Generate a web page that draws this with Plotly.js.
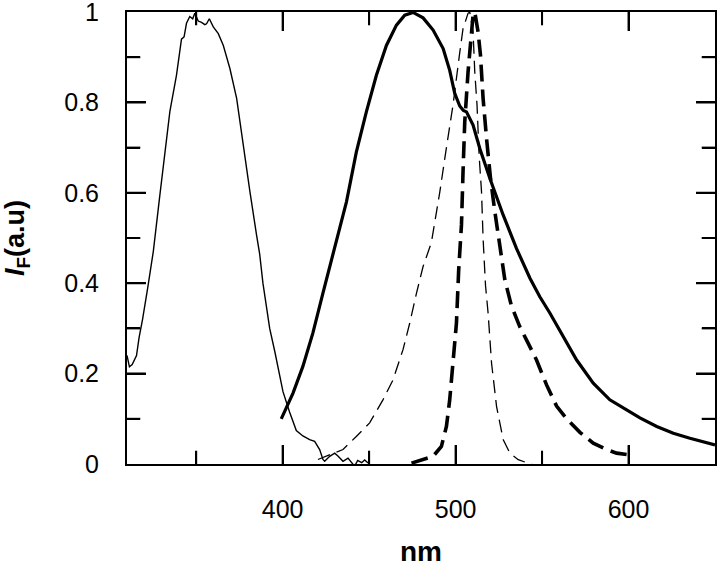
<!DOCTYPE html>
<html>
<head>
<meta charset="utf-8">
<script src="https://cdn.plot.ly/plotly-3.0.1.min.js"></script>
<style>html,body{margin:0;padding:0;background:#fff;}#chart{width:720px;height:567px;}</style>
</head>
<body>
<div id="chart"></div>
<script>
// Thin solid (excitation)
const exNm = [310, 311.4, 313, 315.5, 317, 319, 322, 325.2, 329, 332.9, 334.8, 338.6, 341.5, 343, 344.4, 346.3, 348, 349.2, 350, 351.2, 353.1, 355, 356, 357.6, 359.9, 362.8, 365.7, 369.5, 373.4, 377.2, 381.1, 384.9, 386.7, 388.6, 390.6, 392.5, 395.4, 398, 400.2, 404, 407.9, 411.7, 415.6, 418.5, 420.4, 421.4, 423.3, 424.3, 427.2, 430.1, 431.8, 434.9, 437.8, 440, 441.6, 443.4, 445.7, 447.4, 449.4];
const exVal = [0.24, 0.215, 0.22, 0.24, 0.28, 0.32, 0.39, 0.47, 0.595, 0.72, 0.78, 0.86, 0.94, 0.945, 0.975, 0.99, 0.985, 0.997, 0.99, 0.98, 0.977, 0.972, 0.974, 0.985, 0.967, 0.952, 0.926, 0.875, 0.809, 0.705, 0.602, 0.507, 0.465, 0.40, 0.35, 0.30, 0.25, 0.20, 0.16, 0.115, 0.074, 0.062, 0.054, 0.05, 0.039, 0.032, 0.01, 0.006, 0.017, 0.024, 0.018, 0.006, 0.013, 0.004, -0.005, 0.008, 0.003, 0.009, 0.002];

// Thick solid (emission)
const emNm = [399.2, 406, 411.7, 417.5, 423.3, 428.2, 431, 436.9, 442.6, 448.4, 454.2, 460, 465.8, 470.6, 475.4, 481.2, 487, 492.8, 496.6, 499.5, 502.4, 504.5, 506.3, 510.1, 514, 519.8, 527.5, 535.2, 543, 548.7, 554.5, 562.2, 570, 579.6, 589.2, 598.9, 606.6, 616.3, 625.9, 635.5, 645.2, 650];
const emVal = [0.10, 0.157, 0.216, 0.29, 0.378, 0.451, 0.49, 0.58, 0.69, 0.779, 0.86, 0.926, 0.971, 0.993, 0.999, 0.987, 0.96, 0.919, 0.871, 0.82, 0.792, 0.782, 0.779, 0.75, 0.698, 0.632, 0.551, 0.477, 0.411, 0.37, 0.334, 0.282, 0.23, 0.179, 0.142, 0.12, 0.102, 0.083, 0.068, 0.057, 0.046, 0.042];

// Thin dashed
const d1Nm = [420.4, 425.3, 430, 434.9, 442.6, 450.3, 458, 463.8, 469.6, 473.5, 477.4, 481.2, 486, 490.8, 494.7, 498.5, 502.4, 504.3, 507.2, 508.2, 510.1, 511.1, 512.4, 513.6, 515, 515.9, 517.3, 518.8, 520.8, 523.7, 527.5, 531.4, 536.2, 542, 548, 555, 562, 570, 578, 585, 592, 600];
const d1Val = [0.01, 0.017, 0.024, 0.032, 0.061, 0.091, 0.142, 0.186, 0.253, 0.312, 0.378, 0.437, 0.49, 0.6, 0.70, 0.794, 0.91, 0.963, 0.997, 1.0, 0.956, 0.867, 0.794, 0.683, 0.602, 0.499, 0.395, 0.334, 0.223, 0.127, 0.054, 0.024, 0.0095, 0.002, -0.006, -0.003, -0.008, -0.004, -0.007, -0.003, -0.008, -0.005];

// Thick dashed
const d2Nm = [474.5, 481.2, 487, 491.8, 494.7, 496.6, 498.5, 500.5, 501.8, 503.4, 504.3, 505.3, 507.2, 509.2, 510.1, 511.1, 513, 514.4, 515.9, 517.9, 520.2, 522.7, 525.6, 528.5, 532.3, 537.1, 542, 546.8, 552.6, 558.4, 564.2, 571.9, 579.6, 587.3, 593.1, 598.9];
const d2Val = [0.002, 0.01, 0.017, 0.039, 0.083, 0.142, 0.216, 0.312, 0.43, 0.529, 0.646, 0.757, 0.867, 0.949, 0.993, 1.0, 0.956, 0.904, 0.809, 0.72, 0.632, 0.558, 0.485, 0.407, 0.35, 0.304, 0.267, 0.23, 0.175, 0.128, 0.1, 0.07, 0.046, 0.032, 0.024, 0.021];

// Axes and ticks
const xRange = [310, 650];
const yRange = [0, 1];
const xTickVals = [400, 500, 600];
const xMinorVals = [350, 450, 550];
const yTickVals = [0, 0.2, 0.4, 0.6, 0.8, 1];
const yTickText = ['0', '0.2', '0.4', '0.6', '0.8', '1'];
const yInnerMajor = [0.2, 0.4, 0.6, 0.8];
const yInnerMinor = [0.1, 0.3, 0.5, 0.7, 0.9];

const xTitle = 'nm';
const yTitle = '<i>I</i><sub>F</sub>(a.u)';

const traces = [
  {x: exNm, y: exVal, mode: 'lines', line: {color: '#000', width: 1.4}, hoverinfo: 'skip'},
  {x: emNm, y: emVal, mode: 'lines', line: {color: '#000', width: 3.2}, hoverinfo: 'skip'},
  {x: d1Nm, y: d1Val, mode: 'lines', line: {color: '#000', width: 1.3, dash: '13px,7px'}, hoverinfo: 'skip'},
  {x: d2Nm, y: d2Val, mode: 'lines', line: {color: '#000', width: 3.6, dash: '17px,8px'}, hoverinfo: 'skip'}
];

// Tick marks as clipped line markers sitting on the frame (half inside the plot is visible)
function tickMarks(xs, ys, symbol, size) {
  return {x: xs, y: ys, mode: 'markers', cliponaxis: true, hoverinfo: 'skip',
    marker: {symbol: symbol, size: size, color: '#000', line: {color: '#000', width: 2}}};
}
function xTickTrace(vals, size) {
  const xs = [], ys = [];
  vals.forEach(v => { xs.push(v, v); ys.push(yRange[0], yRange[1]); });
  return tickMarks(xs, ys, 'line-ns', size);
}
function yTickTrace(vals, size) {
  const xs = [], ys = [];
  vals.forEach(v => { ys.push(v, v); xs.push(xRange[0], xRange[1]); });
  return tickMarks(xs, ys, 'line-ew', size);
}
traces.push(xTickTrace(xTickVals, 27));
traces.push(xTickTrace(xMinorVals, 19));
traces.push(yTickTrace(yInnerMajor, 27));
traces.push(yTickTrace(yInnerMinor, 19));

const fam = 'Liberation Sans, Arial, sans-serif';

const layout = {
  width: 720, height: 567,
  margin: {l: 127, r: 5, t: 12, b: 103},
  showlegend: false,
  xaxis: {
    range: xRange,
    gridcolor: 'rgba(0,0,0,0)', zerolinecolor: '#000',
    showline: true, linecolor: '#000', linewidth: 2, mirror: 'ticks',
    ticks: 'inside', ticklen: 19, tickwidth: 2, tickcolor: '#000',
    tickmode: 'array', tickvals: xTickVals,
    minor: {dtick: 50, tick0: 0, ticks: 'inside', ticklen: 13, tickwidth: 2, tickcolor: '#000'},
    tickfont: {family: fam, size: 25, color: '#000'},
    ticklabelstandoff: 22,
    ticklabeloverflow: 'allow',
    title: {text: xTitle, font: {family: fam, size: 28, color: '#000', weight: 'bold'}, standoff: 30}
  },
  yaxis: {
    range: yRange,
    gridcolor: 'rgba(0,0,0,0)', zerolinecolor: '#000', zerolinewidth: 2,
    showline: true, linecolor: '#000', linewidth: 2, mirror: 'ticks',
    ticks: 'inside', ticklen: 19, tickwidth: 2, tickcolor: '#000',
    tickmode: 'array', tickvals: yTickVals, ticktext: yTickText,
    minor: {dtick: 0.1, tick0: 0, ticks: 'inside', ticklen: 13, tickwidth: 2, tickcolor: '#000'},
    tickfont: {family: fam, size: 25, color: '#000'},
    ticklabelstandoff: 21,
    ticklabeloverflow: 'allow',
    title: {text: yTitle, font: {family: fam, size: 27, color: '#000', weight: 'bold'}, standoff: 33}
  }
};

Plotly.newPlot('chart', traces, layout, {displayModeBar: false});
</script>
</body>
</html>
